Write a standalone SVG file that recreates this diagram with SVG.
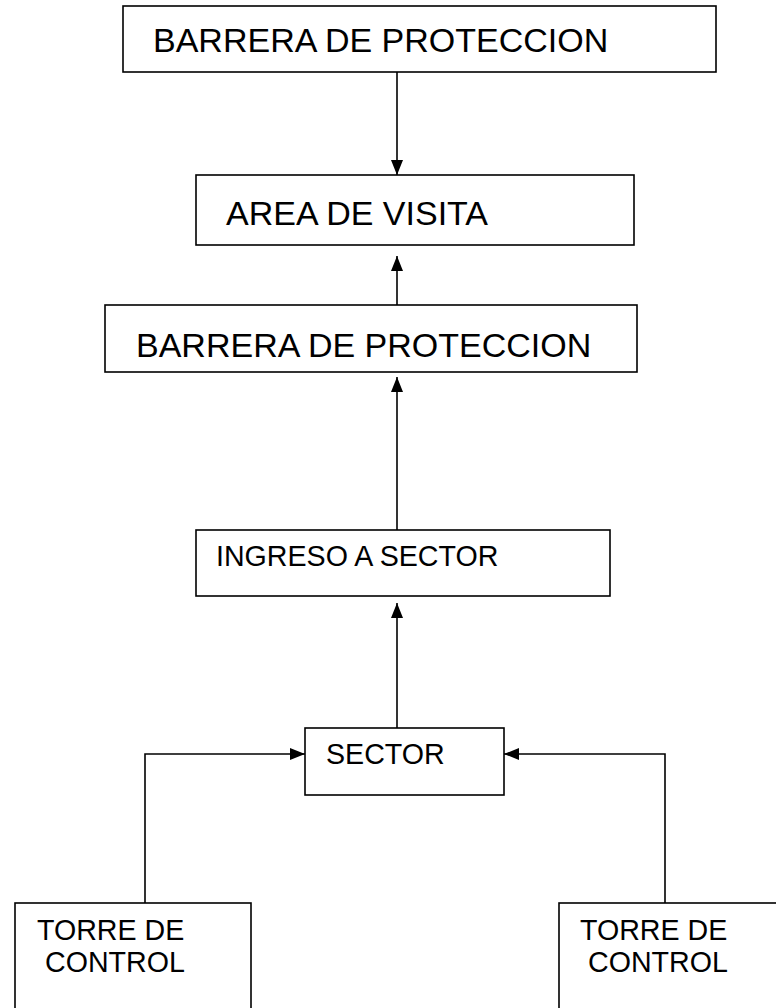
<svg xmlns="http://www.w3.org/2000/svg" width="776" height="1008" viewBox="0 0 776 1008">
<style>
.box{fill:#fff;stroke:#000;stroke-width:1.6}
.big{font-family:"Liberation Sans",Arial,sans-serif;font-size:34px;fill:#000}
.small{font-family:"Liberation Sans",Arial,sans-serif;font-size:28.6px;fill:#000}
.line{fill:none;stroke:#000;stroke-width:1.6}
</style>
<defs>
<marker id="ah" viewBox="0 0 15 12" refX="15" refY="6" markerWidth="15" markerHeight="12" markerUnits="userSpaceOnUse" orient="auto">
<path d="M0,0 L15,6 L0,12 Z" fill="#000"/>
</marker>
</defs>
<g id="connectors">
<line class="line" x1="397" y1="72" x2="397" y2="175" marker-end="url(#ah)"/>
<line class="line" x1="397" y1="305" x2="397" y2="256" marker-end="url(#ah)"/>
<line class="line" x1="397" y1="530" x2="397" y2="377" marker-end="url(#ah)"/>
<line class="line" x1="397" y1="728" x2="397" y2="603" marker-end="url(#ah)"/>
<polyline class="line" points="145,903 145,754 305,754" marker-end="url(#ah)"/>
<polyline class="line" points="665,903 665,754 504,754" marker-end="url(#ah)"/>
</g>
<g id="barrera1">
<rect class="box" x="123" y="6" width="593" height="66"/>
<text class="big" x="153" y="52">BARRERA DE PROTECCION</text>
</g>
<g id="area">
<rect class="box" x="196" y="175" width="438" height="70"/>
<text class="big" x="226" y="225">AREA DE VISITA</text>
</g>
<g id="barrera2">
<rect class="box" x="105" y="305" width="532" height="67"/>
<text class="big" x="136" y="357">BARRERA DE PROTECCION</text>
</g>
<g id="ingreso">
<rect class="box" x="196" y="530" width="414" height="66"/>
<text class="small" x="216" y="566">INGRESO A SECTOR</text>
</g>
<g id="sector">
<rect class="box" x="305" y="728" width="199" height="67"/>
<text class="small" x="326" y="764">SECTOR</text>
</g>
<g id="torre1">
<rect class="box" x="15" y="903" width="236" height="110"/>
<text class="small" x="37" y="940">TORRE DE</text>
<text class="small" x="45" y="972">CONTROL</text>
</g>
<g id="torre2">
<rect class="box" x="559" y="903" width="230" height="110"/>
<text class="small" x="580" y="940">TORRE DE</text>
<text class="small" x="588" y="972">CONTROL</text>
</g>
</svg>
